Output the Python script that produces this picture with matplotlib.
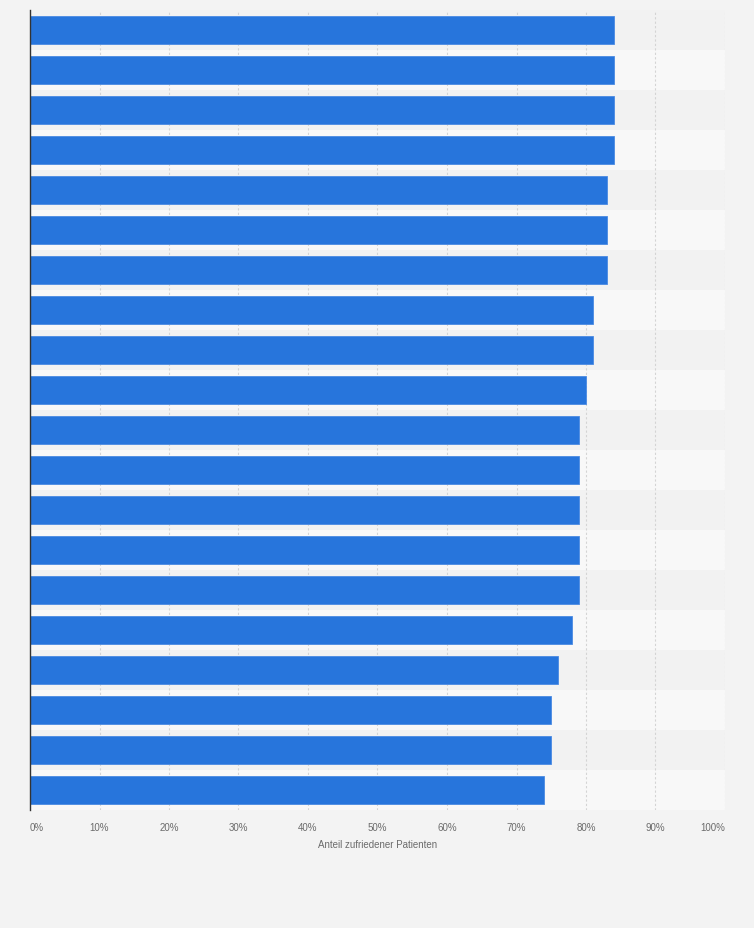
import matplotlib as mpl
mpl.use('Agg')
import matplotlib.pyplot as plt
import numpy as np
from matplotlib.ticker import FixedLocator

# share of satisfied patients (%), top to bottom
values = [84, 84, 84, 84, 83, 83, 83, 81, 81, 80,
          79, 79, 79, 79, 79, 78, 76, 75, 75, 74]
xticks = [0, 10, 20, 30, 40, 50, 60, 70, 80, 90, 100]
xticklabels = ['%d%%' % t for t in xticks]
xlabel = 'Anteil zufriedener Patienten'

BG = '#f3f3f3'
BAR = '#2775dc'
TXT = '#6b6b6b'

plt.rcParams['font.family'] = ['Liberation Sans', 'DejaVu Sans']

fig = plt.figure(figsize=(7.54, 9.29), dpi=100, facecolor=BG)
ax = fig.add_axes([30/754, 1-811/929, 695/754, 800/929])
ax.set_facecolor(BG)

n = len(values)
y = np.arange(n)

# alternating row bands
for i in range(n):
    ax.axhspan(i-0.5, i+0.5, color='#f2f2f2' if i % 2 == 0 else '#f8f8f8', zorder=0, lw=0)

ax.barh(y, values, height=0.7, color=BAR, edgecolor='#4a8ae3', linewidth=0.6, zorder=3)

ax.set_xlim(0, 100)
ax.set_ylim(n-0.5, -0.5)
ax.xaxis.set_major_locator(FixedLocator(xticks))
ax.set_xticklabels(xticklabels, fontsize=7, color=TXT)
labs = ax.get_xticklabels()
labs[0].set_ha('left')
labs[-1].set_ha('right')
ax.tick_params(axis='x', length=0, pad=9)
ax.set_yticks([])
for t in xticks[1:]:
    ax.axvline(t, color='#d4d4d4', lw=0.8, ls=(0, (2, 2)), zorder=1)

for s in ['top', 'right', 'bottom']:
    ax.spines[s].set_visible(False)
ax.spines['left'].set_color('#333333')
ax.spines['left'].set_linewidth(1.0)
ax.spines['left'].set_zorder(4)

ax.set_xlabel(xlabel, fontsize=7, color=TXT, labelpad=5)

fig.savefig('out.png', dpi=100, facecolor=BG)
